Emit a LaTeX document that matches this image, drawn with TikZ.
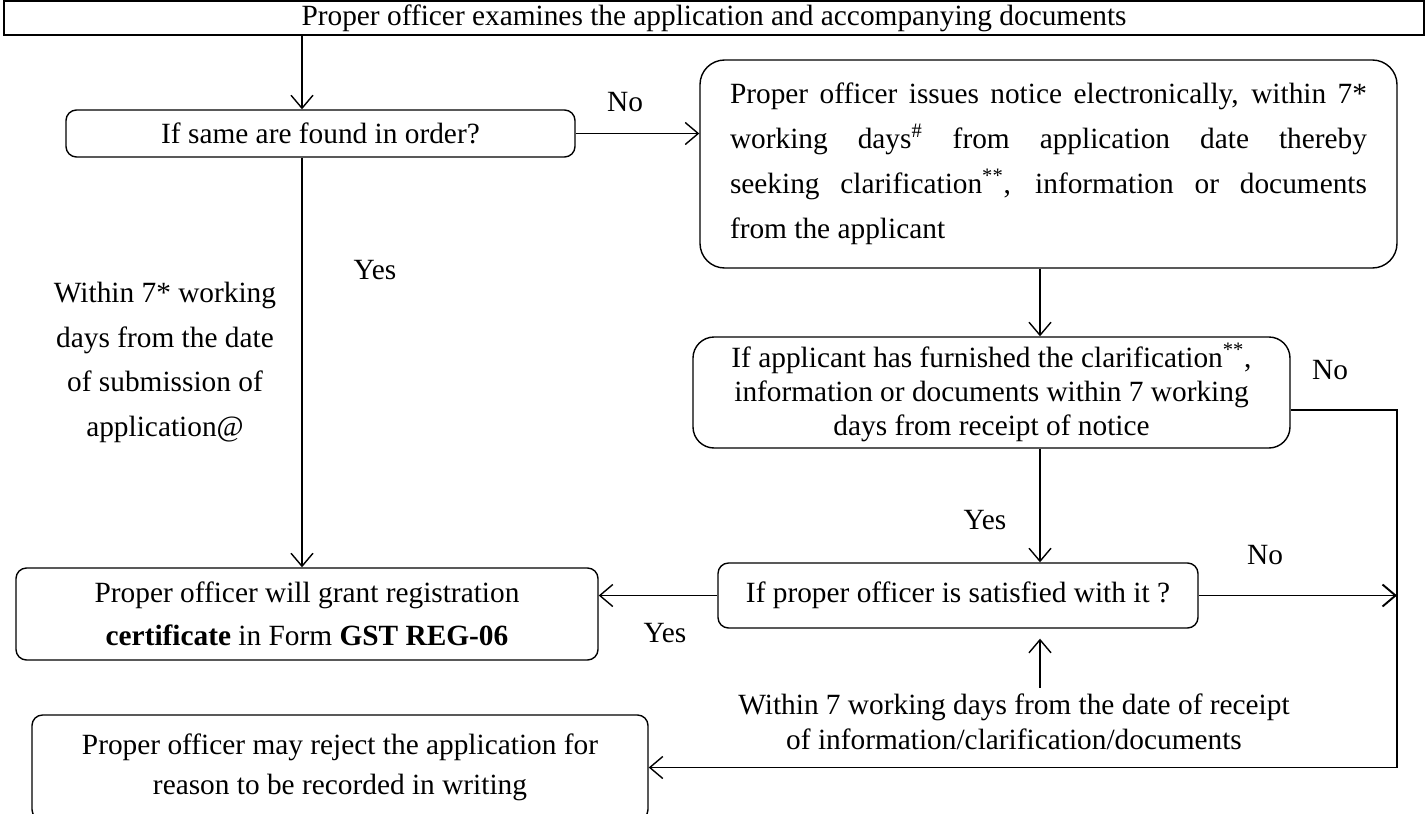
\documentclass[tikz,border=0pt]{standalone}
\usepackage{fontspec}
\setmainfont{Liberation Serif}
\usetikzlibrary{arrows.meta,positioning}

\begin{document}
\begin{tikzpicture}[font=\fontsize{16.7}{19}\selectfont,
    box/.style={draw, line width=0.8pt, rounded corners=6pt, align=center, inner sep=2pt},
    arr/.style={-{Straight Barb[length=2.6mm,width=4.4mm]}, line width=0.8pt},
    lab/.style={inner sep=1pt}]
\useasboundingbox (0,0) rectangle (28.54,-16.28);
\coordinate (colA) at (6.04,0);
\coordinate (colB) at (20.8,0);
\coordinate (turn) at (27.94,-8.2);
% boxes
\node[box, line width=1.4pt, rounded corners=0pt, minimum width=28.4cm, minimum height=0.56cm] (exam) at (14.28,-0.36)
    {Proper officer examines the application and accompanying documents};
\node[box, minimum width=10.18cm, minimum height=0.94cm] (order) at (6.41,-2.67) {If same are found in order?};
\node[box, rounded corners=14pt, minimum width=13.94cm, minimum height=4.16cm, align=justify, text width=12.74cm,
      font=\fontsize{16.7}{25.5}\selectfont] (notice) at (20.97,-3.28)
    {Proper officer issues notice electronically, within 7*\linebreak
     working days\textsuperscript{\#} from application date thereby\linebreak
     seeking clarification\textsuperscript{**}, information or documents\linebreak
     from the applicant};
\node[box, rounded corners=12pt, minimum width=11.94cm, minimum height=2.22cm,
      font=\fontsize{16.7}{19.3}\selectfont] (furn) at (19.83,-7.85)
    {If applicant has furnished the clarification\textsuperscript{**},\\
     information or documents within 7 working\\ days from receipt of notice};
\node[box, minimum width=9.6cm, minimum height=1.3cm] (satis) at (19.16,-11.91) {If proper officer is satisfied with it ?};
\node[box, minimum width=11.64cm, minimum height=1.84cm, font=\fontsize{16.7}{24.4}\selectfont] (grant) at (6.14,-12.28)
    {Proper officer will grant registration\\ \textbf{certificate} in Form \textbf{GST REG-06}};
\node[box, minimum width=12.32cm, minimum height=2.1cm, font=\fontsize{16.7}{22.7}\selectfont] (reject) at (6.8,-15.35)
    {Proper officer may reject the application for\\ reason to be recorded in writing};
% notes
\node[align=center, font=\fontsize{16.7}{25.5}\selectfont] (subm) at (3.3,-7.25)
    {Within 7* working\\ days from the date\\ of submission of\\ application@};
\node[align=center, font=\fontsize{16.7}{19.8}\selectfont] (rcpt) at (20.28,-14.44)
    {Within 7 working days from the date of receipt\\ of information/clarification/documents};
% connectors
\draw[arr] (exam.south -| colA) -- (order.north -| colA);
\draw[arr] (order.east) -- (order.east -| notice.west);
\draw[arr] (order.south -| colA) -- (grant.north -| colA);
\draw[arr] (notice.south -| colB) -- (furn.north -| colB);
\draw[arr] (furn.south -| colB) -- (satis.north -| colB);
\draw[arr] (furn.east |- turn) -- (turn) -- (turn |- reject.east) -- (reject.east);
\draw[arr, line width=1.1pt] (satis.east) -- (satis.east -| turn);
\draw[arr] (satis.west) -- (satis.west -| grant.east);
\draw[arr, shorten >=0.2cm] (rcpt.north -| colB) -- (satis.south -| colB);
% labels
\node[lab] (no1) at (12.5,-2.04) {No};
\node[lab] (yes1) at (7.5,-5.4) {Yes};
\node[lab] (no2) at (26.6,-7.4) {No};
\node[lab] (yes2) at (19.7,-10.4) {Yes};
\node[lab] (no3) at (25.3,-11.1) {No};
\node[lab] (yes3) at (13.3,-12.66) {Yes};
\end{tikzpicture}
\end{document}
